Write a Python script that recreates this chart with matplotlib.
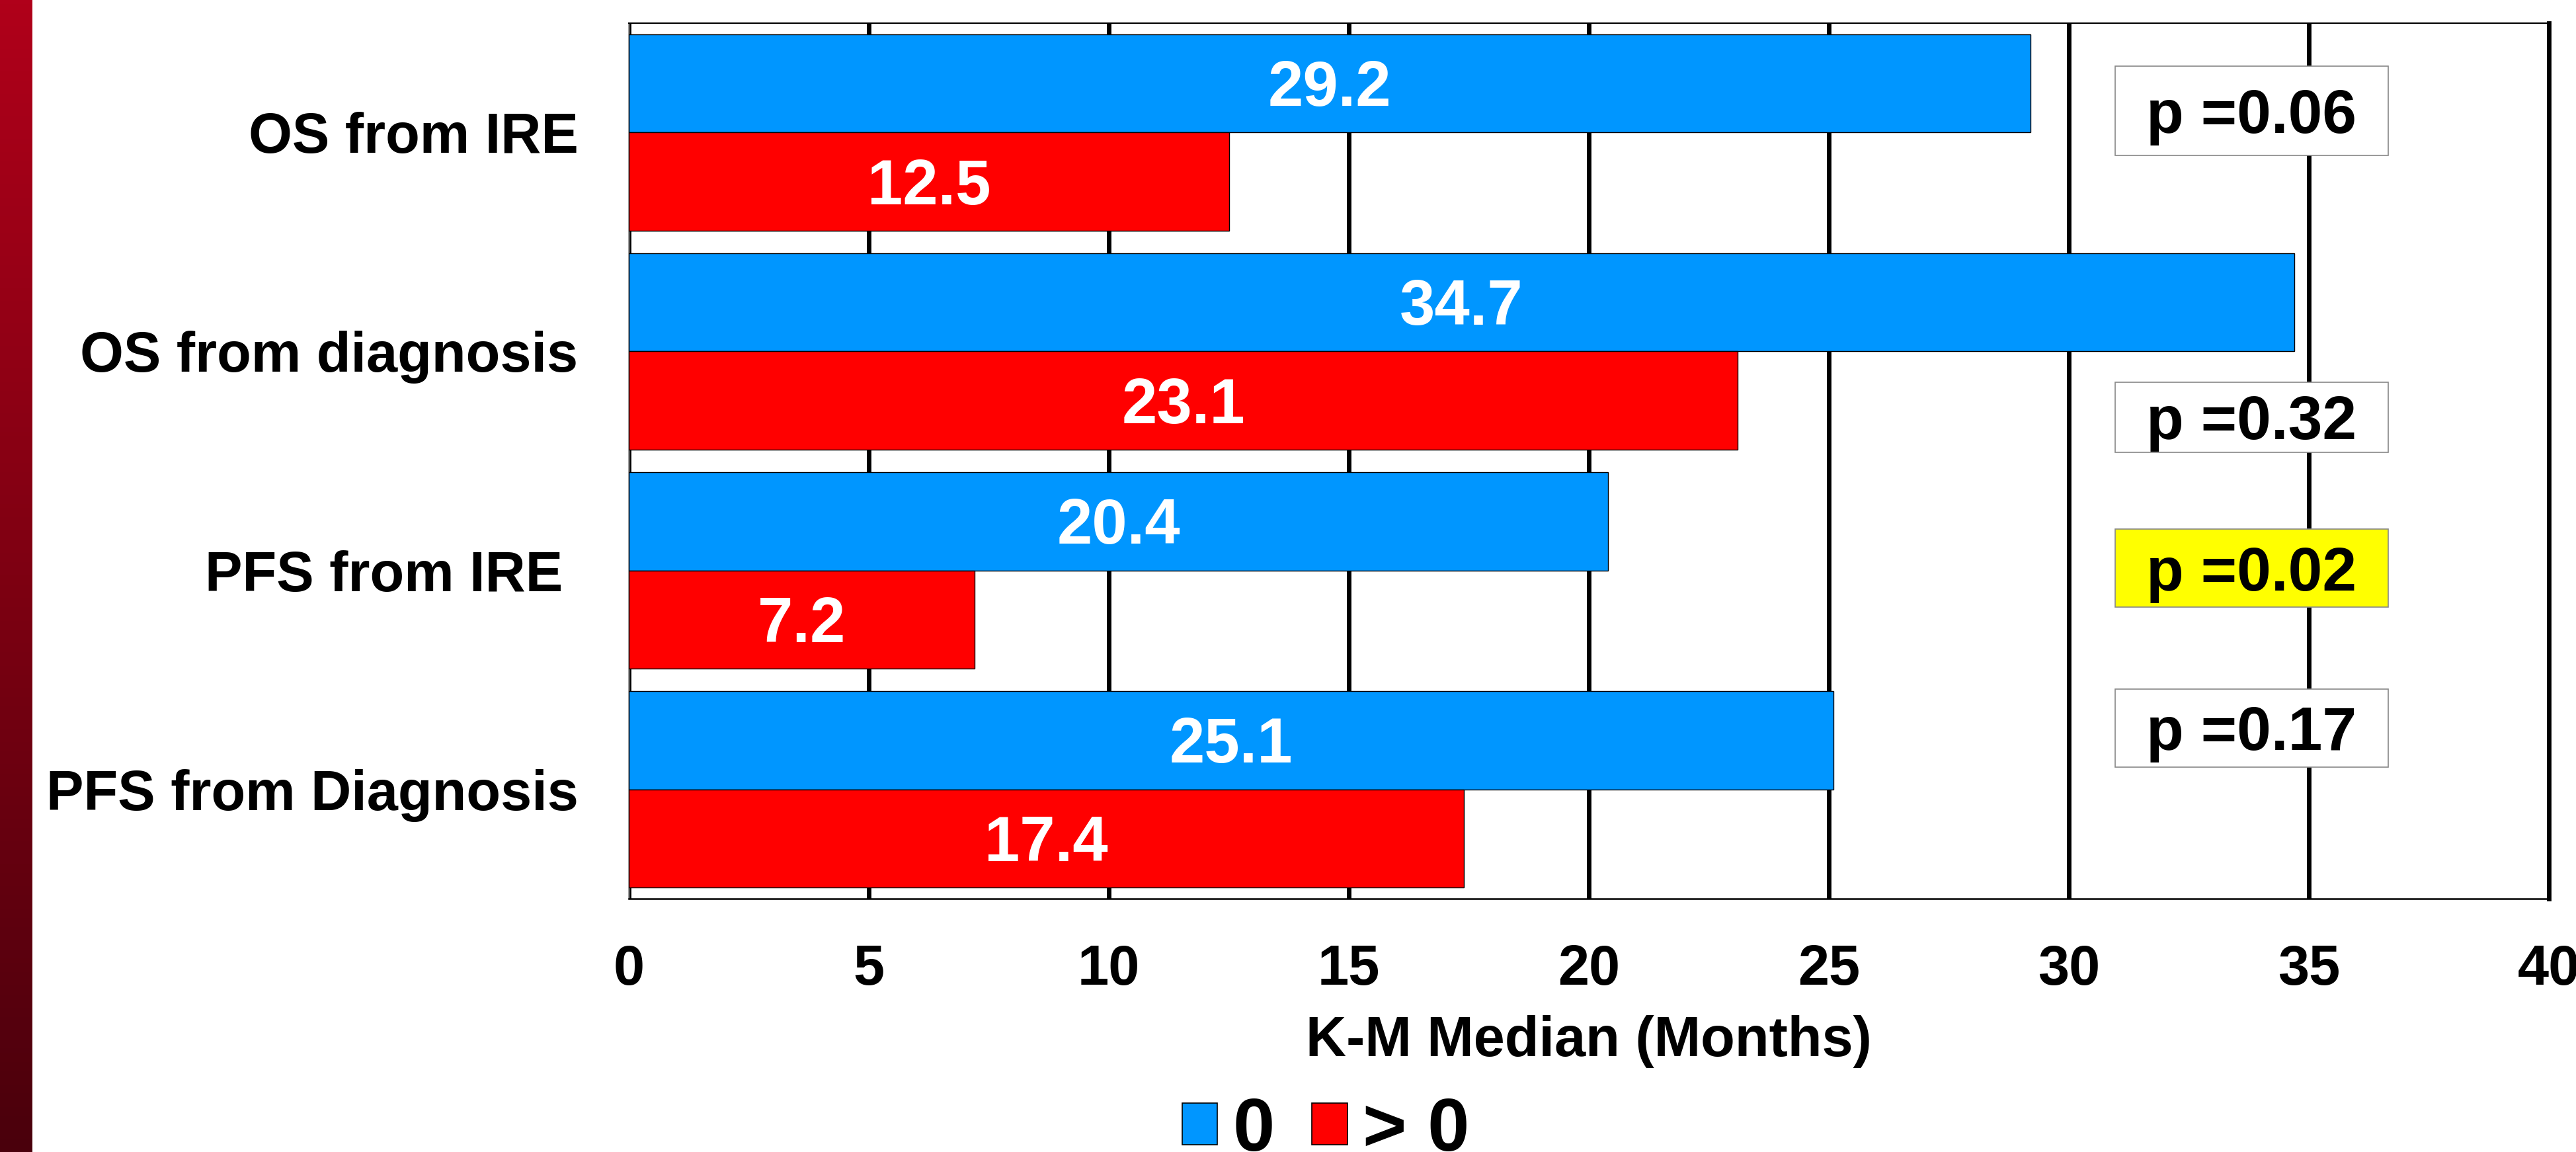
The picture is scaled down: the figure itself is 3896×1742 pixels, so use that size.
import matplotlib
matplotlib.use("Agg")
import matplotlib.pyplot as plt
import numpy as np
from matplotlib.patches import Patch, Rectangle
from matplotlib.colors import LinearSegmentedColormap

plt.rcParams['font.family'] = ['Liberation Sans', 'DejaVu Sans']
plt.rcParams['font.weight'] = 'bold'

# K-M medians (months) by group
categories = ['OS from IRE', 'OS from diagnosis', 'PFS from IRE ', 'PFS from Diagnosis']
zero_group = [29.2, 34.7, 20.4, 25.1]
above_zero_group = [12.5, 23.1, 7.2, 17.4]
series_names = ['0', '> 0']
p_labels = ['p =0.06', 'p =0.32', 'p =0.02', 'p =0.17']
xticks = [0, 5, 10, 15, 20, 25, 30, 35, 40]

BLUE = '#0096FF'
RED = '#FF0000'

fig = plt.figure(figsize=(38.96, 17.42), dpi=100)

# dark red strip down the left edge
strip = fig.add_axes([0, 0, 49 / 3896, 1])
cmap = LinearSegmentedColormap.from_list('strip', ['#B0001A', '#7E0012', '#4A000C'])
strip.imshow(np.linspace(0, 1, 256).reshape(-1, 1), aspect='auto', cmap=cmap)
strip.set_axis_off()

ax = fig.add_axes([0.2441, 0.21986, 0.74538, 0.76005])

y = np.arange(len(categories))
h = 0.45
ax.barh(y - h / 2, zero_group, height=h, color=BLUE, edgecolor='black', linewidth=1, zorder=3)
ax.barh(y + h / 2, above_zero_group, height=h, color=RED, edgecolor='black', linewidth=1, zorder=3)

# values written inside the bars
for vals, off in [(zero_group, -h / 2), (above_zero_group, h / 2)]:
    for i, v in enumerate(vals):
        ax.annotate(f'{v:.1f}', (v / 2, i + off), xytext=(0, -0.358 * 69),
                    textcoords='offset points', ha='center', va='baseline',
                    color='white', fontsize=69, fontweight='bold', zorder=4)

# p-value boxes
p_y = [-0.10, 1.30, 1.99, 2.72]
p_h = [0.41, 0.32, 0.357, 0.357]
p_face = ['white', 'white', '#FFFF00', 'white']
for lab, yc, bh, fc in zip(p_labels, p_y, p_h, p_face):
    ax.add_patch(Rectangle((30.96, yc - bh / 2), 5.69, bh, facecolor=fc,
                           edgecolor='#888888', linewidth=1.2, zorder=5))
    ax.annotate(lab, (33.8, yc), xytext=(0, -0.358 * 67), textcoords='offset points',
                ha='center', va='baseline', fontsize=67, fontweight='bold', zorder=6)

ax.set_xlim(0, 40)
ax.set_ylim(3.5, -0.5)
ax.set_xticks(xticks)
ax.set_yticks(y)
ax.set_yticklabels(categories)
ax.tick_params(axis='both', length=0, labelsize=61)
ax.tick_params(axis='x', pad=49)
ax.tick_params(axis='y', pad=55)
ax.grid(axis='x', color='black', linewidth=4.9, zorder=0)
ax.set_axisbelow(True)
ax.set_xlabel('K-M Median (Months)', fontsize=61, fontweight='bold', labelpad=20)

ax.spines['left'].set_color('#A0A0A0')
ax.spines['left'].set_linewidth(1.5)
ax.spines['top'].set_linewidth(1.5)
ax.spines['bottom'].set_linewidth(1.8)
ax.spines['right'].set_linewidth(4.9)

handles = [Patch(facecolor=BLUE, edgecolor='black', linewidth=1.2),
           Patch(facecolor=RED, edgecolor='black', linewidth=1.2)]
fig.legend(handles, series_names, loc='center', bbox_to_anchor=(0.5146, 0.0178),
           ncol=2, frameon=False, handlelength=0.47, handleheight=0.47,
           handletextpad=0.2, columnspacing=0.5, borderpad=0, prop={'weight': 'bold', 'size': 82})

fig.savefig('out.png', dpi=100)
